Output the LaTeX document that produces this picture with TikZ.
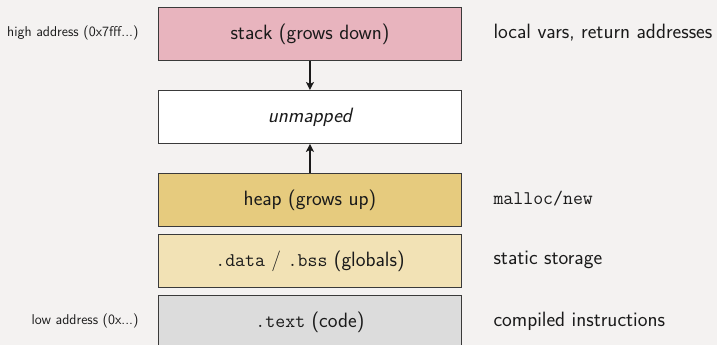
\documentclass[tikz,border=0pt]{standalone}
\usetikzlibrary{arrows.meta}
\definecolor{bg}{HTML}{F4F2F1}
\definecolor{stackc}{HTML}{E8B4BE}
\definecolor{heapc}{HTML}{E6CB7E}
\definecolor{datac}{HTML}{F2E2B5}
\definecolor{textc}{HTML}{DCDCDC}
\definecolor{edge}{HTML}{3A3A3A}
\definecolor{ink}{HTML}{1A1A1A}
\newcommand{\monotxt}[1]{{\fontsize{19.3}{23}\selectfont\ttfamily #1}}
\tikzset{
  seg/.style={draw=edge, line width=0.9pt, minimum width=303pt, minimum height=53pt, inner sep=0pt, anchor=north west, font=\sffamily\fontsize{20.7}{24}\selectfont, text=ink},
  rlab/.style={anchor=west, font=\sffamily\fontsize{20.7}{24}\selectfont, text=ink},
  llab/.style={anchor=east, font=\sffamily\fontsize{14.2}{16}\selectfont, text=ink},
  growarrow/.style={-{Stealth[length=8pt,width=8pt,inset=2pt]}, line width=1.6pt, draw=ink}
}
\begin{document}
\begin{tikzpicture}[x=1pt,y=-1pt]
\useasboundingbox (0,0) rectangle (717,345);
\fill[bg] (0,0) rectangle (717,345);
\clip (0,0) rectangle (717,345);
\node[seg, fill=stackc] (stack) at (158,7) {stack (grows down)};
\node[seg, fill=white] (unm) at (158,90) {\itshape unmapped};
\node[seg, fill=heapc] (heap) at (158,173) {heap (grows up)};
\node[seg, fill=datac] (data) at (158,234) {\monotxt{.data} / \monotxt{.bss} (globals)};
\node[seg, fill=textc] (text) at (158,295) {\monotxt{.text} (code)};
\draw[growarrow] (stack.south) -- (unm.north);
\draw[growarrow] (heap.north) -- (unm.south);
\node[rlab] (r1) at (490,33) {local vars, return addresses};
\node[rlab] (r2) at (490,199) {\monotxt{malloc/new}};
\node[rlab] (r3) at (490,260) {static storage};
\node[rlab] (r4) at (490,321) {compiled instructions};
\node[llab] (l1) at (142,33) {high address (0x7fff...)};
\node[llab] (l2) at (142,321) {low address (0x...)};
\end{tikzpicture}
\end{document}
